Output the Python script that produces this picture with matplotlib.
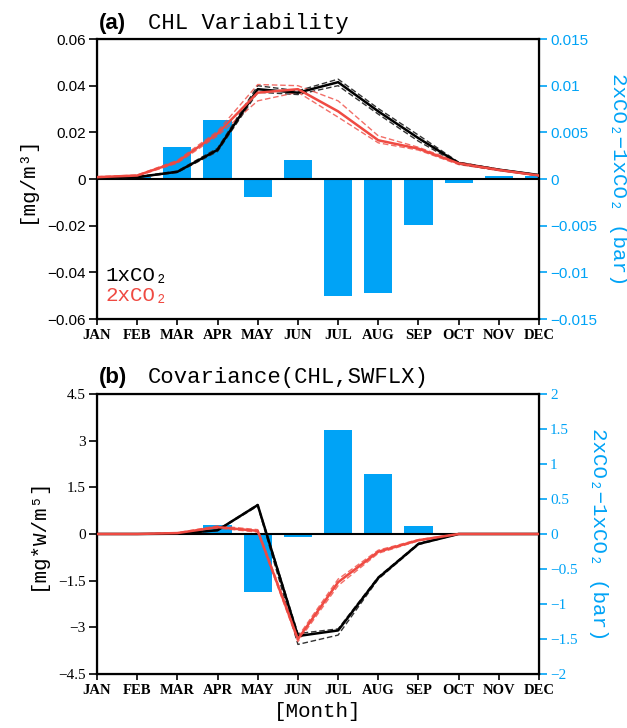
import matplotlib
matplotlib.use('Agg')
import matplotlib.pyplot as plt
import numpy as np

months = ['JAN', 'FEB', 'MAR', 'APR', 'MAY', 'JUN', 'JUL', 'AUG', 'SEP', 'OCT', 'NOV', 'DEC']

# (a) CHL variability [mg/m3]
chl_1x = [0.0005, 0.0008, 0.0031, 0.0125, 0.0385, 0.0370, 0.0415, 0.0290, 0.0175, 0.0068, 0.0040, 0.0017]
chl_1x_hi = [0.0006, 0.0010, 0.0034, 0.0132, 0.0400, 0.0378, 0.0428, 0.0302, 0.0188, 0.0072, 0.0042, 0.0018]
chl_1x_lo = [0.0004, 0.0007, 0.0028, 0.0118, 0.0372, 0.0362, 0.0400, 0.0278, 0.0162, 0.0064, 0.0038, 0.0016]
chl_2x = [0.0008, 0.0015, 0.0074, 0.0195, 0.0370, 0.0385, 0.0290, 0.0166, 0.0130, 0.0067, 0.0039, 0.0015]
chl_2x_hi = [0.0010, 0.0017, 0.0080, 0.0205, 0.0405, 0.0400, 0.0335, 0.0185, 0.0136, 0.0072, 0.0042, 0.0017]
chl_2x_lo = [0.0007, 0.0013, 0.0068, 0.0185, 0.0335, 0.0372, 0.0265, 0.0155, 0.0124, 0.0062, 0.0036, 0.0013]
chl_pco2_diff = [0.0, 0.0002, 0.0034, 0.0063, -0.0019, 0.0020, -0.0125, -0.0122, -0.0049, -0.0004, 0.0003, 0.0003]

# (b) Covariance(CHL, SWFLX) [mg*W/m5]
cov_1x = [0.0, 0.0, 0.01, 0.12, 0.93, -3.28, -3.10, -1.41, -0.32, 0.0, 0.0, 0.0]
cov_1x_hi = [0.0, 0.0, 0.01, 0.13, 0.95, -3.20, -3.05, -1.38, -0.30, 0.0, 0.0, 0.0]
cov_1x_lo = [0.0, 0.0, 0.01, 0.11, 0.90, -3.55, -3.25, -1.45, -0.34, 0.0, 0.0, 0.0]
cov_2x = [0.0, 0.0, 0.03, 0.22, 0.10, -3.38, -1.55, -0.57, -0.20, 0.0, 0.0, 0.0]
cov_2x_hi = [0.0, 0.0, 0.04, 0.26, 0.14, -3.30, -1.45, -0.52, -0.18, 0.0, 0.0, 0.0]
cov_2x_lo = [0.0, 0.0, 0.02, 0.19, 0.06, -3.46, -1.66, -0.62, -0.22, 0.0, 0.0, 0.0]
cov_pco2_diff = [0.0, 0.0, 0.0, 0.13, -0.83, -0.04, 1.48, 0.85, 0.11, 0.0, 0.0, 0.0]

a_left_ticks = [0.06, 0.04, 0.02, 0, -0.02, -0.04, -0.06]
a_left_labels = ['0.06', '0.04', '0.02', '0', '\u22120.02', '\u22120.04', '\u22120.06']
a_right_ticks = [0.015, 0.01, 0.005, 0, -0.005, -0.01, -0.015]
a_right_labels = ['0.015', '0.01', '0.005', '0', '\u22120.005', '\u22120.01', '\u22120.015']
b_left_ticks = [4.5, 3, 1.5, 0, -1.5, -3, -4.5]
b_left_labels = ['4.5', '3', '1.5', '0', '\u22121.5', '\u22123', '\u22124.5']
b_right_ticks = [2, 1.5, 1, 0.5, 0, -0.5, -1, -1.5, -2]
b_right_labels = ['2', '1.5', '1', '0.5', '0', '\u22120.5', '\u22121', '\u22121.5', '\u22122']

BLUE = '#00a3f6'
RED = '#ef4a42'
MONO = ['Liberation Mono', 'DejaVu Sans Mono']
SERIF = ['Liberation Serif', 'DejaVu Serif']
SANS = ['Liberation Sans', 'DejaVu Sans']

x = np.arange(len(months))

fig = plt.figure(figsize=(6.27, 7.28), dpi=100)


def panel(rect, tag, title, ylabel, ylim, yticks, ylabels, y2lim, y2ticks, y2labels,
          bars, l1, l1hi, l1lo, l2, l2hi, l2lo, numfont):
    ax2 = fig.add_axes(rect)
    ax = fig.add_axes(rect, sharex=ax2)
    ax.set_zorder(ax2.get_zorder() + 1)
    ax.patch.set_visible(False)

    ax2.bar(x, bars, width=0.7, color=BLUE, zorder=1)
    ax2.set_ylim(y2lim)
    ax2.yaxis.tick_right()
    ax2.yaxis.set_label_position('right')
    ax2.set_yticks(y2ticks)
    ax2.set_yticklabels(y2labels, family=numfont, fontsize=11, color=BLUE)
    ax2.tick_params(axis='y', colors=BLUE, direction='out', length=6, width=1.2, pad=2)
    ax2.tick_params(axis='x', bottom=False, labelbottom=False)

    ax.axhline(0, color='black', lw=1.5, zorder=2)
    ax.plot(x, l1hi, color='#333333', lw=1.0, ls=(0, (4, 2)), zorder=3)
    ax.plot(x, l1lo, color='#333333', lw=1.0, ls=(0, (4, 2)), zorder=3)
    ax.plot(x, l2hi, color=RED, lw=1.0, ls=(0, (4, 2)), alpha=0.8, zorder=3)
    ax.plot(x, l2lo, color=RED, lw=1.0, ls=(0, (4, 2)), alpha=0.8, zorder=3)
    ax.plot(x, l1, color='black', lw=1.8, zorder=4)
    ax.plot(x, l2, color=RED, lw=1.8, zorder=5)

    ax.set_xlim(0, 11)
    ax.set_ylim(ylim)
    ax.set_yticks(yticks)
    ax.set_yticklabels(ylabels, family=numfont, fontsize=11)
    ax.set_xticks(x)
    ax.set_xticklabels(months, family=SERIF, fontsize=10.5, fontweight='bold')
    ax.tick_params(axis='both', direction='out', length=6, width=1.2, pad=2)
    ax.tick_params(axis='x', length=4, pad=3)
    for s in ax.spines.values():
        s.set_linewidth(1.6)
    ax.set_ylabel(ylabel, family=MONO, fontsize=15, labelpad=8)
    ax2.set_ylabel('2xCO\u2082\u22121xCO\u2082 (bar)', family=MONO, fontsize=15,
                   color=BLUE, rotation=270, labelpad=22)

    l, b, w, h = rect
    fig.text(0.158, b + h + 0.022, tag, family=SANS, fontweight='bold', fontsize=16,
             va='center', ha='left')
    fig.text(0.236, b + h + 0.022, title, family=MONO, fontsize=16,
             va='center', ha='left')
    return ax, ax2


ax_a, _ = panel([0.1547, 0.5618, 0.705, 0.3846], '(a)', 'CHL Variability', '[mg/m\u00b3]',
                (-0.06, 0.06), a_left_ticks, a_left_labels,
                (-0.015, 0.015), a_right_ticks, a_right_labels,
                chl_pco2_diff, chl_1x, chl_1x_hi, chl_1x_lo, chl_2x, chl_2x_hi, chl_2x_lo, SANS)
ax_a.text(0.02, 0.155, '1xCO\u2082', transform=ax_a.transAxes, family=MONO, fontsize=15,
          color='black', va='center')
ax_a.text(0.02, 0.085, '2xCO\u2082', transform=ax_a.transAxes, family=MONO, fontsize=15,
          color=RED, va='center')

ax_b, _ = panel([0.1547, 0.0742, 0.705, 0.3846], '(b)', 'Covariance(CHL,SWFLX)', '[mg*W/m\u2075]',
                (-4.5, 4.5), b_left_ticks, b_left_labels,
                (-2, 2), b_right_ticks, b_right_labels,
                cov_pco2_diff, cov_1x, cov_1x_hi, cov_1x_lo, cov_2x, cov_2x_hi, cov_2x_lo, SERIF)
ax_b.set_xlabel('[Month]', family=MONO, fontsize=15, labelpad=4)

fig.savefig('out.png', dpi=100)
